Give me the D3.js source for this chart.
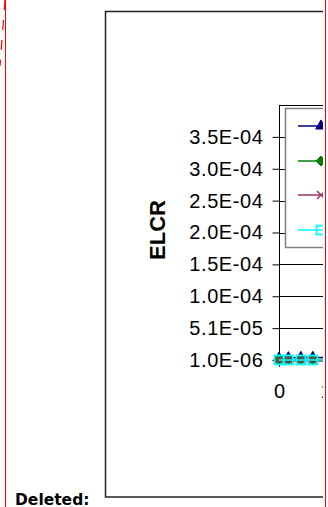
<!DOCTYPE html>
<html><head><meta charset="utf-8">
<script src="https://cdn.jsdelivr.net/npm/d3@7"></script>
<style>
html,body{margin:0;padding:0;background:#fff;}
svg{display:block;}
</style></head>
<body>
<script>
// ---- data ----
const xValues = [0, 1.8, 4.2, 6.5, 9.5];
const seriesNames = ["Series 1", "Series 2", "Series 3", "Series 4"];
const seriesColors = ["#000080", "#008000", "#993366", "#00FFFF"];
const seriesMarkers = ["triangle", "diamond", "cross", "square"];
const navyValues   = [4.0e-6, 4.5e-6, 5.0e-6, 5.0e-6, 5.0e-6];
const greenValues  = [1.5e-6, 1.5e-6, 1.6e-6, 1.6e-6, 1.6e-6];
const purpleValues = [1.2e-6, 1.2e-6, 1.3e-6, 1.3e-6, 1.3e-6];
const cyanValues   = [1.0e-6, 1.0e-6, 1.0e-6, 1.0e-6, 1.0e-6];
const yTickValues = [1.0e-6, 5.1e-5, 1.01e-4, 1.51e-4, 2.01e-4, 2.51e-4, 3.01e-4, 3.51e-4];
const yTickLabels = ["1.0E-06", "5.1E-05", "1.0E-04", "1.5E-04", "2.0E-04", "2.5E-04", "3.0E-04", "3.5E-04"];
const xTickValues = [0, 10];
const xTickLabels = ["0", "10"];
const yTitle = "ELCR";
const sideNote = "Deleted:";

const W = 328, H = 507;
const svg = d3.select("body").append("svg").attr("width", W).attr("height", H);
svg.append("rect").attr("width", W).attr("height", H).attr("fill", "#fff");

const defs = svg.append("defs");
defs.append("clipPath").attr("id", "clip").append("rect")
  .attr("x", 0).attr("y", 0).attr("width", 323).attr("height", H);

const chart = svg.append("g").attr("clip-path", "url(#clip)");

// outer chart border
chart.append("rect").attr("x", 105.5).attr("y", 11.5).attr("width", 400).attr("height", 485.5)
  .attr("fill", "none").attr("stroke", "#222").attr("stroke-width", 1.5);

const x = d3.scaleLinear().domain([0, 10]).range([279, 331]);
const y = d3.scaleLinear().domain([1.0e-6, 4.01e-4]).range([360, 105]);

// gridlines + plot top
const grid = chart.append("g");
grid.selectAll("line").data(yTickValues.concat([4.01e-4])).join("line")
  .attr("x1", 279).attr("x2", 400)
  .attr("y1", d => Math.round(y(d)) + 0.5).attr("y2", d => Math.round(y(d)) + 0.5)
  .attr("stroke", "#000").attr("stroke-width", 1);

// y axis
const yAxis = d3.axisLeft(y).tickValues(yTickValues)
  .tickFormat((d, i) => yTickLabels[i]).tickSize(7).tickPadding(9);
const gy = chart.append("g").attr("transform", "translate(279.5,0)").call(yAxis);
gy.select(".domain").attr("stroke", "#000").attr("d", "M0," + y(4.01e-4) + "V" + y(1.0e-6));
gy.selectAll(".tick line").attr("stroke", "#000");
gy.selectAll(".tick text").attr("font-family", "'Liberation Sans', Arial, sans-serif")
  .attr("font-size", 20).attr("letter-spacing", "0.6px").attr("fill", "#000");

// x axis
const xAxis = d3.axisBottom(x).tickValues(xTickValues)
  .tickFormat((d, i) => xTickLabels[i]).tickSize(6).tickPadding(17);
const gx = chart.append("g").attr("transform", "translate(0," + (y(1.0e-6) + 0.5) + ")").call(xAxis);
gx.select(".domain").attr("stroke", "#000");
gx.selectAll(".tick line").attr("stroke", "#000");
gx.selectAll(".tick text").attr("font-family", "'Liberation Sans', Arial, sans-serif")
  .attr("font-size", 20).attr("fill", "#000");

// markers
function drawMarker(g, type, color, cx, cy) {
  if (type === "triangle") {
    g.append("path").attr("d", d3.symbol(d3.symbolTriangle, 48)()).attr("transform", `translate(${cx},${cy})`)
      .attr("fill", color).attr("stroke", color);
  } else if (type === "diamond") {
    g.append("path").attr("d", "M0,-5L5,0L0,5L-5,0Z").attr("transform", `translate(${cx},${cy})`)
      .attr("fill", color).attr("stroke", color);
  } else if (type === "cross") {
    g.append("path").attr("d", "M-4,-4L4,4M-4,4L4,-4").attr("transform", `translate(${cx},${cy})`)
      .attr("fill", "none").attr("stroke", color).attr("stroke-width", 1.5);
  } else {
    g.append("rect").attr("x", cx - 4.5).attr("y", cy - 4.5).attr("width", 9).attr("height", 9)
      .attr("fill", "none").attr("stroke", color).attr("stroke-width", 1.8);
  }
}

const allSeries = [navyValues, greenValues, purpleValues, cyanValues];
const line = d3.line().x((d, i) => x(xValues[i])).y(d => y(d));
allSeries.forEach((vals, si) => {
  const g = chart.append("g");
  g.append("path").attr("d", line(vals)).attr("fill", "none")
    .attr("stroke", seriesColors[si]).attr("stroke-width", 1.5);
  vals.forEach((v, i) => drawMarker(g, seriesMarkers[si], seriesColors[si], x(xValues[i]), y(v)));
});

// legend
const leg = chart.append("g");
leg.append("rect").attr("x", 285.5).attr("y", 108.5).attr("width", 200).attr("height", 139)
  .attr("fill", "#fff").attr("stroke", "#808080").attr("stroke-width", 1.5);
const legY = [126, 161, 195, 230];
seriesNames.forEach((name, si) => {
  const g = leg.append("g");
  g.append("line").attr("x1", 298).attr("x2", 340).attr("y1", legY[si]).attr("y2", legY[si])
    .attr("stroke", seriesColors[si]).attr("stroke-width", 1.5);
  drawMarker(g, seriesMarkers[si], seriesColors[si], 321, legY[si]);
  g.append("text").attr("x", 345).attr("y", legY[si] + 6).attr("font-size", 17)
    .attr("font-family", "'Liberation Sans', Arial, sans-serif").text(name);
});

// y title
svg.append("text").attr("transform", "translate(165,230) rotate(-90)")
  .attr("text-anchor", "middle").attr("font-family", "'Liberation Sans', Arial, sans-serif")
  .attr("font-weight", "bold").attr("font-size", 22).attr("fill", "#000").text(yTitle);

// side note
svg.append("text").attr("x", 15).attr("y", 505)
  .attr("font-family", "'DejaVu Sans', Verdana, sans-serif").attr("font-weight", "bold")
  .attr("font-size", 15.5).attr("fill", "#000").text(sideNote);

// red revision bars
svg.append("line").attr("x1", 5.5).attr("x2", 5.5).attr("y1", 0).attr("y2", H)
  .attr("stroke", "#ff0000").attr("stroke-width", 1);
svg.append("line").attr("x1", 5).attr("x2", 0).attr("y1", 0).attr("y2", 66)
  .attr("stroke", "#ff0000").attr("stroke-width", 1.2).attr("stroke-dasharray", "10,10");
svg.append("line").attr("x1", 325.5).attr("x2", 325.5).attr("y1", 0).attr("y2", H)
  .attr("stroke", "#ff0000").attr("stroke-width", 1);
</script>
</body></html>
